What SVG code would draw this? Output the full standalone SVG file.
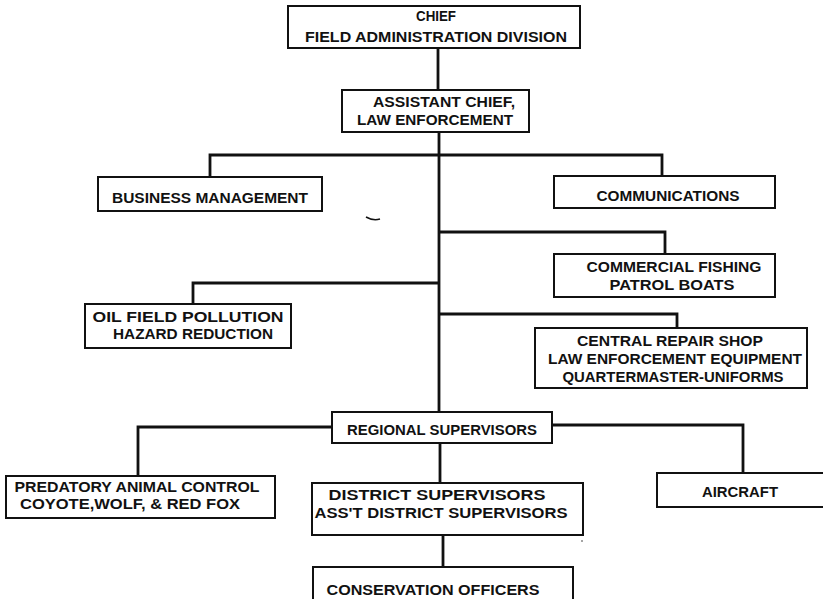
<svg xmlns="http://www.w3.org/2000/svg" width="823" height="599" viewBox="0 0 823 599">
<style>
.box{fill:#fff;stroke:#111;stroke-width:2}
.t{font-family:"Liberation Sans","Arial",sans-serif;font-weight:bold;font-size:14px;fill:#111;text-anchor:middle}
.c{fill:none;stroke:#111;stroke-width:2.8;stroke-linejoin:miter}
</style>
<rect width="823" height="599" fill="#fff"/>
<g id="connectors">
<path class="c" d="M438,48 V90"/>
<path class="c" d="M439,132 V412"/>
<path class="c" d="M439,155 H210 V177"/>
<path class="c" d="M439,155 H662 V176"/>
<path class="c" d="M439,232 H665 V254"/>
<path class="c" d="M439,283 H193 V304"/>
<path class="c" d="M439,314 H677 V328"/>
<path class="c" d="M332,427 H138 V476"/>
<path class="c" d="M552,425 H743 V473"/>
<path class="c" d="M440,443 V483"/>
<path class="c" d="M443,535 V567"/>
</g>
<g id="chief">
<rect class="box" x="288" y="6" width="292" height="42"/>
<text class="t" x="436" y="21" textLength="40" lengthAdjust="spacingAndGlyphs">CHIEF</text>
<text class="t" x="436" y="42" textLength="262" lengthAdjust="spacingAndGlyphs">FIELD ADMINISTRATION DIVISION</text>
</g>
<g id="assistant-chief">
<rect class="box" x="342" y="90" width="187" height="42"/>
<text class="t" x="444" y="107" textLength="142" lengthAdjust="spacingAndGlyphs">ASSISTANT CHIEF,</text>
<text class="t" x="435" y="125" textLength="156" lengthAdjust="spacingAndGlyphs">LAW ENFORCEMENT</text>
</g>
<g id="business-management">
<rect class="box" x="98" y="177" width="224" height="34"/>
<text class="t" x="210" y="203" textLength="196" lengthAdjust="spacingAndGlyphs">BUSINESS MANAGEMENT</text>
</g>
<g id="communications">
<rect class="box" x="554" y="176" width="221" height="32"/>
<text class="t" x="668" y="201" textLength="143" lengthAdjust="spacingAndGlyphs">COMMUNICATIONS</text>
</g>
<g id="commercial-fishing">
<rect class="box" x="554" y="254" width="221" height="43"/>
<text class="t" x="674" y="272" textLength="175" lengthAdjust="spacingAndGlyphs">COMMERCIAL FISHING</text>
<text class="t" x="672" y="290" textLength="125" lengthAdjust="spacingAndGlyphs">PATROL BOATS</text>
</g>
<g id="oil-field">
<rect class="box" x="85" y="304" width="206" height="44"/>
<text class="t" x="188" y="322" textLength="191" lengthAdjust="spacingAndGlyphs">OIL FIELD POLLUTION</text>
<text class="t" x="193" y="339" textLength="160" lengthAdjust="spacingAndGlyphs">HAZARD REDUCTION</text>
</g>
<g id="central-repair">
<rect class="box" x="535" y="328" width="272" height="60"/>
<text class="t" x="670" y="346" textLength="186" lengthAdjust="spacingAndGlyphs">CENTRAL REPAIR SHOP</text>
<text class="t" x="675" y="364" textLength="254" lengthAdjust="spacingAndGlyphs">LAW ENFORCEMENT EQUIPMENT</text>
<text class="t" x="673" y="382" textLength="221" lengthAdjust="spacingAndGlyphs">QUARTERMASTER-UNIFORMS</text>
</g>
<g id="regional-supervisors">
<rect class="box" x="332" y="412" width="220" height="31"/>
<text class="t" x="442" y="435" textLength="190" lengthAdjust="spacingAndGlyphs">REGIONAL SUPERVISORS</text>
</g>
<g id="predatory-animal">
<rect class="box" x="6" y="476" width="269" height="42"/>
<text class="t" x="137" y="492" textLength="245" lengthAdjust="spacingAndGlyphs">PREDATORY ANIMAL CONTROL</text>
<text class="t" x="130" y="509" textLength="220" lengthAdjust="spacingAndGlyphs">COYOTE,WOLF, &amp; RED FOX</text>
</g>
<g id="district-supervisors">
<rect class="box" x="312" y="483" width="271" height="52"/>
<text class="t" x="437" y="500" textLength="217" lengthAdjust="spacingAndGlyphs">DISTRICT SUPERVISORS</text>
<text class="t" x="441" y="518" textLength="253" lengthAdjust="spacingAndGlyphs">ASS'T DISTRICT SUPERVISORS</text>
</g>
<g id="aircraft">
<rect class="box" x="657" y="473" width="180" height="34"/>
<text class="t" x="740" y="497" textLength="76" lengthAdjust="spacingAndGlyphs">AIRCRAFT</text>
</g>
<g id="conservation-officers">
<rect class="box" x="313" y="567" width="260" height="45"/>
<text class="t" x="433" y="595" textLength="213" lengthAdjust="spacingAndGlyphs">CONSERVATION OFFICERS</text>
</g>
<g id="scan-marks">
<path d="M366,217 Q373,221 380,219" fill="none" stroke="#111" stroke-width="1.5"/>
<circle cx="582" cy="541" r="0.8" fill="#333"/>
</g>
</svg>
